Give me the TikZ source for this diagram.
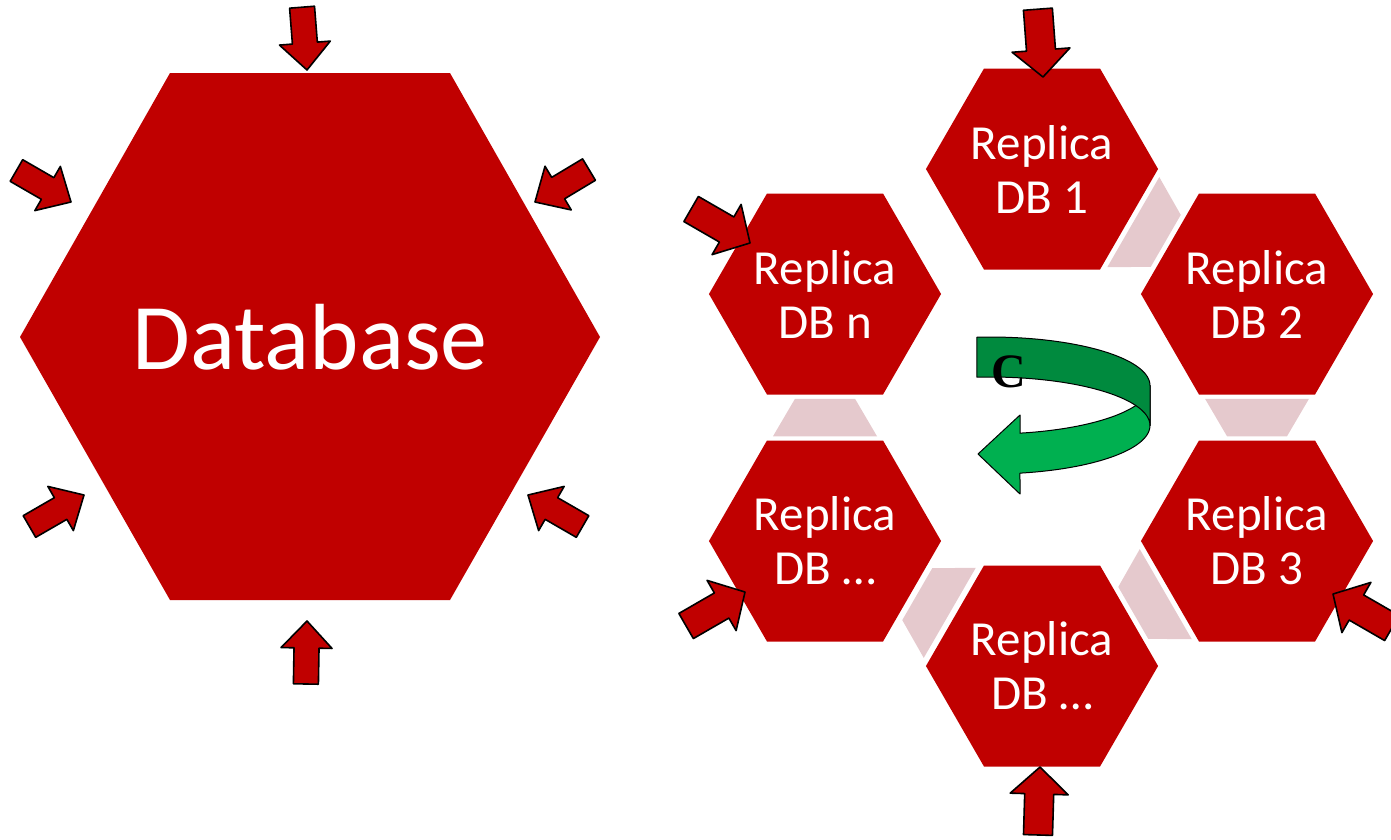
\documentclass[tikz,border=0pt]{standalone}
\usepackage{fontspec}
\setmainfont{Carlito}
\newfontfamily\cfont{Liberation Serif}
\usetikzlibrary{shapes.geometric}
\definecolor{dbred}{RGB}{192,0,0}
\definecolor{connpink}{RGB}{229,201,205}
\definecolor{gdark}{RGB}{0,138,62}
\definecolor{glight}{RGB}{0,176,80}
\tikzset{
  hexsmall/.style={regular polygon, regular polygon sides=6, minimum size=230pt, inner sep=0pt,
    fill=dbred, text=white, align=center, font=\fontsize{49}{54}\selectfont},
  redarrow/.style={fill=dbred, draw=black, line width=1.6pt, line join=round},
  greenline/.style={draw=black, line width=1pt, line join=round},
  arrA/.pic={\path[redarrow] (0,0) -- (-27,25.5) -- (-27,12.5) -- (-63,12.5) -- (-63,-12.5) -- (-27,-12.5) -- (-27,-25.5) -- cycle;},
  arrB/.pic={\path[redarrow] (0,0) -- (-27,29) -- (-27,14.5) -- (-68,14.5) -- (-68,-14.5) -- (-27,-14.5) -- (-27,-29) -- cycle;},
  conn/.pic={\fill[connpink] (-18.75,-52) -- (-18.75,52) -- (18.75,30) -- (18.75,-30) -- cycle;},
}
\begin{document}
\begin{tikzpicture}[x=1pt,y=-1pt]
\useasboundingbox (0,0) rectangle (1391,839);
\clip (0,0) rectangle (1391,839);
% big database hexagon
\fill[dbred] (20,337) -- (170,73) -- (450,73) -- (600,337) -- (450,600) -- (170,600) -- cycle;
\node[text=white, font=\fontsize{94}{100}\selectfont, inner sep=0pt] (db) at (310,337) {Database};
% replica hexagons
\node[hexsmall] (r1) at (1042,169) {Replica\\DB 1};
\node[hexsmall] (r2) at (1257,294) {Replica\\DB 2};
\node[hexsmall] (r3) at (1257,541) {Replica\\DB 3};
\node[hexsmall] (rb) at (1042,666) {Replica\\DB \dots};
\node[hexsmall] (rl) at (825,541) {Replica\\DB \dots};
\node[hexsmall] (rn) at (825,294) {Replica\\DB n};
% connectors
\pic[rotate=-30] at (1149.5,231.5) {conn};
\pic[rotate=-90] at (1257,417.5) {conn};
\pic[rotate=-150] at (1149.5,603.5) {conn};
\pic[rotate=150] at (933.5,603.5) {conn};
\pic[rotate=90] at (825,417.5) {conn};
% arrows around database
\pic[rotate=-85.5] at (307,70) {arrA};
\pic[rotate=-30] at (71,202) {arrA};
\pic[rotate=-149] at (535,202) {arrA};
\pic[rotate=30] at (84,495) {arrA};
\pic[rotate=150] at (528,495) {arrA};
\pic[rotate=89] at (307,621) {arrA};
% arrows around replicas
\pic[rotate=-85.7] at (1043,77) {arrB};
\pic[rotate=-30] at (750,243) {arrB};
\pic[rotate=30] at (745,592) {arrB};
\pic[rotate=150] at (1333,594) {arrB};
\pic[rotate=88.3] at (1040,767) {arrB};
% green circular arrow
\path[greenline, fill=glight] (1020,415) -- (1020,433)
  -- plot[domain=79.2:0, samples=40] ({990+160*cos(\x)},{385.5+48.5*sin(\x)})
  -- plot[domain=0:79.2, samples=40] ({990+160*cos(\x)},{425.5+48.5*sin(\x)})
  -- (1020,494) -- (978,454) -- cycle;
\path[greenline, fill=gdark] plot[domain=-94.7:0, samples=40] ({990+160*cos(\x)},{385.5+48.5*sin(\x)})
  -- plot[domain=0:-94.7, samples=40] ({990+160*cos(\x)},{425.5+48.5*sin(\x)}) -- cycle;
\node[font=\cfont\bfseries\fontsize{48}{48}\selectfont, inner sep=0pt] (c) at (1009,372) {C};
\end{tikzpicture}
\end{document}
